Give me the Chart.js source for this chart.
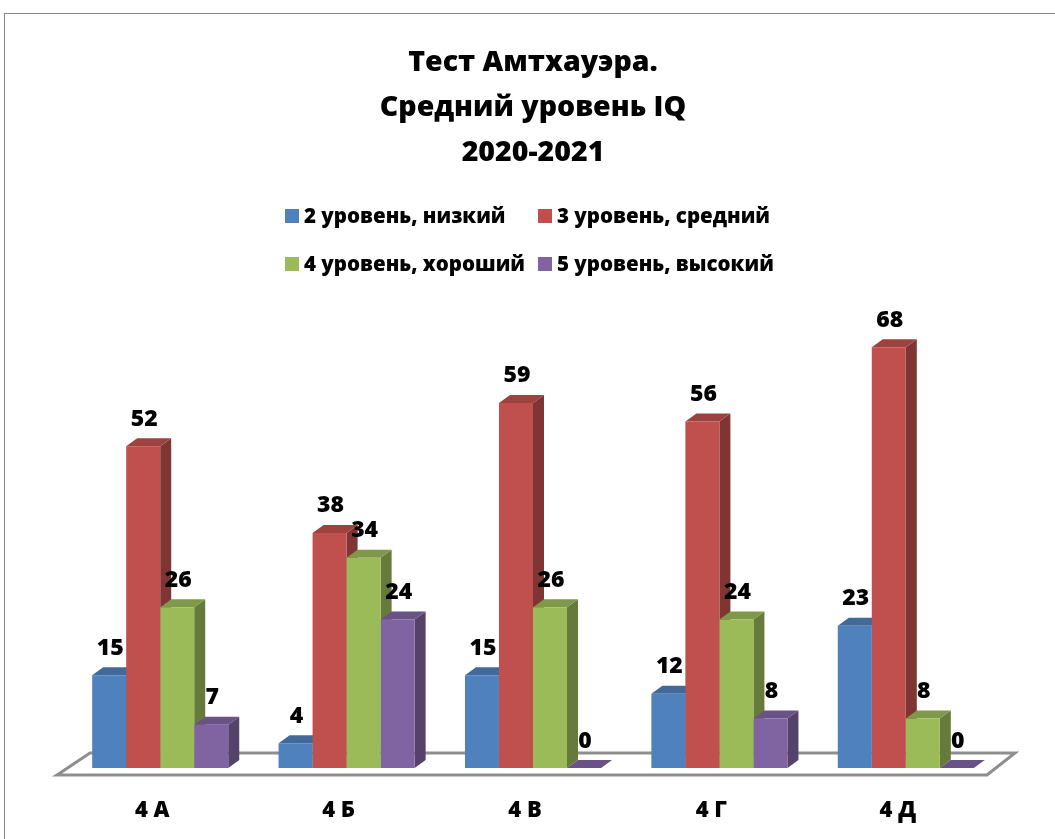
<!DOCTYPE html>
<html>
<head>
<meta charset="utf-8">
<script src="https://cdn.jsdelivr.net/npm/chart.js@4.4.1/dist/chart.umd.min.js"></script>
<style>
  html, body { margin: 0; padding: 0; background: #fff; }
  #wrap { width: 1055px; height: 839px; }
</style>
</head>
<body>
<div id="wrap"><canvas id="chart" width="1055" height="839"></canvas></div>
<script>
// Тест Амтхауэра — средний уровень IQ, 2020-2021
const categories = ['4 А', '4 Б', '4 В', '4 Г', '4 Д'];
const seriesNames = ['2 уровень, низкий', '3 уровень, средний', '4 уровень, хороший', '5 уровень, высокий'];
const level2 = [15, 4, 15, 12, 23];
const level3 = [52, 38, 59, 56, 68];
const level4 = [26, 34, 26, 24, 8];
const level5 = [7, 24, 0, 8, 0];
const titleLines = ['Тест Амтхауэра.', 'Средний уровень IQ', '2020-2021'];

const colors = ['#4F81BD', '#C0504D', '#9BBB59', '#8064A2'];
const FONT = "'Open Sans', 'DejaVu Sans', sans-serif";
const DX = 11, DY = 8; // глубина столбика

function shade(hex, f) {
    const n = parseInt(hex.slice(1), 16);
    const r = Math.round(((n >> 16) & 255) * f);
    const g = Math.round(((n >> 8) & 255) * f);
    const b = Math.round((n & 255) * f);
    return `rgb(${r},${g},${b})`;
}

function poly(ctx, pts, fill, stroke, lw) {
    ctx.beginPath();
    ctx.moveTo(pts[0][0], pts[0][1]);
    for (let i = 1; i < pts.length; i++) ctx.lineTo(pts[i][0], pts[i][1]);
    ctx.closePath();
    if (fill) { ctx.fillStyle = fill; ctx.fill(); }
    if (stroke) { ctx.strokeStyle = stroke; ctx.lineWidth = lw || 1; ctx.stroke(); }
}

// пол + боковые и верхние грани столбиков
const bars3d = {
    id: 'bars3d',
    beforeDatasetsDraw(chart) {
        const ctx = chart.ctx;
        const a = chart.chartArea;
        const B = a.bottom;
        ctx.save();
        poly(ctx, [[a.left - 10, B + 7], [a.right - 12, B + 7], [a.right + 16, B - 15], [a.left + 23, B - 15]],
            '#ffffff', '#8e8e8e', 3);
        chart.data.datasets.forEach((ds, i) => {
            const meta = chart.getDatasetMeta(i);
            meta.data.forEach(bar => {
                const L = bar.x - bar.width / 2, R = bar.x + bar.width / 2;
                const top = bar.y, base = bar.base;
                if (base - top > 0) {
                    poly(ctx, [[R, top], [R + DX, top - DY], [R + DX, base - DY], [R, base]], shade(ds.backgroundColor, 0.66));
                }
                poly(ctx, [[L, top], [R, top], [R + DX, top - DY], [L + DX, top - DY]], shade(ds.backgroundColor, 0.82));
            });
        });
        ctx.restore();
    },
    afterDatasetsDraw(chart) {
        const ctx = chart.ctx;
        ctx.save();
        ctx.font = `800 23px ${FONT}`;
        ctx.fillStyle = '#000';
        ctx.textAlign = 'center';
        ctx.textBaseline = 'middle';
        chart.data.datasets.forEach((ds, i) => {
            chart.getDatasetMeta(i).data.forEach((bar, j) => {
                ctx.fillText(String(ds.data[j]), bar.x + 1, bar.y - 27);
            });
        });
        ctx.restore();
    },
    afterDraw(chart) {
        const ctx = chart.ctx;
        ctx.save();
        // рамка
        ctx.strokeStyle = '#868686';
        ctx.lineWidth = 1;
        ctx.strokeRect(4.5, 13.5, chart.width + 20, chart.height + 20);
        // легенда в две колонки
        const colX = [285, 538];
        const rowY = [216, 264];
        ctx.font = `800 20.5px ${FONT}`;
        ctx.textBaseline = 'middle';
        ctx.textAlign = 'left';
        chart.data.datasets.forEach((ds, i) => {
            const x = colX[i % 2], y = rowY[Math.floor(i / 2)];
            ctx.fillStyle = ds.backgroundColor;
            ctx.fillRect(x, y - 7, 14, 14);
            ctx.fillStyle = '#000';
            ctx.fillText(ds.label, x + 19, y + 1);
        });
        ctx.restore();
    }
};

const allSeries = [level2, level3, level4, level5];

new Chart(document.getElementById('chart'), {
    type: 'bar',
    data: {
        labels: categories,
        datasets: allSeries.map((vals, i) => ({
            label: seriesNames[i],
            data: vals,
            backgroundColor: colors[i],
            borderWidth: 0,
            categoryPercentage: 0.73,
            barPercentage: 1.0
        }))
    },
    options: {
        responsive: false,
        animation: false,
        events: [],
        layout: { padding: { left: 67, right: 56, top: 0, bottom: 0 } },
        plugins: {
            legend: { display: false },
            tooltip: { enabled: false },
            title: {
                display: true,
                text: titleLines,
                color: '#000',
                font: { family: FONT, size: 28.5, weight: '800', lineHeight: 45 / 28.5 },
                padding: { top: 40, bottom: 98 }
            }
        },
        scales: {
            x: {
                grid: { display: false, drawTicks: false },
                border: { display: false },
                ticks: { color: '#000', font: { family: FONT, size: 22, weight: '800' }, padding: 30, labelOffset: -8 },
                afterFit(scale) { scale.height = 71; }
            },
            y: {
                display: false,
                min: 0,
                max: 80
            }
        }
    },
    plugins: [bars3d]
});
</script>
</body>
</html>
